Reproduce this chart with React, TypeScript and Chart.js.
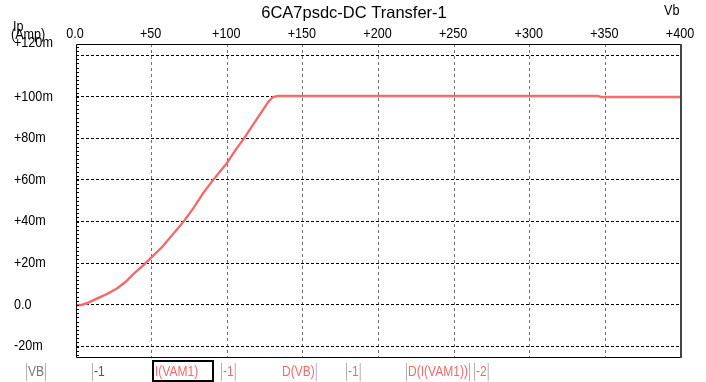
import React, { useEffect, useRef } from "react";
import { Chart, registerables } from "chart.js";

Chart.register(...registerables);

const title = "6CA7psdc-DC Transfer-1";
const xAxisName = "Vb";
const yAxisName = ["Ip", "(Amp)"];
const xTicks = [0, 50, 100, 150, 200, 250, 300, 350, 400];
const yTicks = [-20, 0, 20, 40, 60, 80, 100, 120];
// Vb (volts)
const vb = [0, 4, 8, 14, 20, 27, 33, 38, 45, 50, 57, 64, 71, 78, 84, 90, 95, 100, 105, 111, 116, 122, 127, 130, 133, 150, 200, 250, 300, 345, 347, 400];
// Ip (mA)
const ip = [0, 0.2, 1.2, 3.2, 5.2, 8, 11.3, 15, 19.5, 23, 28, 34, 40, 47, 53.7, 59.5, 64, 68.5, 74, 80, 85.5, 92, 97.5, 99.8, 100.4, 100.5, 100.5, 100.5, 100.5, 100.5, 100, 100];

const legendItems = [
  { text: "VB", color: "#777777", x: 28, barL: true, barR: true },
  { text: "-1", color: "#555555", x: 94, barL: true, barR: false },
  { text: "I(VAM1)", color: "#f06a6a", x: 155, barL: false, barR: false },
  { text: "-1", color: "#f06a6a", x: 223, barL: true, barR: true },
  { text: "D(VB)", color: "#f06a6a", x: 282, barL: false, barR: true },
  { text: "-1", color: "#f06a6a", x: 348, barL: true, barR: true },
  { text: "D(I(VAM1))", color: "#f06a6a", x: 408, barL: true, barR: true },
  { text: "-2", color: "#f06a6a", x: 476, barL: true, barR: true },
];

const FONT = "14px 'Liberation Sans', Arial, sans-serif";

function fmtY(v: number) {
  if (v === 0) return "0.0";
  return (v > 0 ? "+" : "") + v + "m";
}
function fmtX(v: number) {
  if (v === 0) return "0.0";
  return "+" + v;
}

function narrowText(ctx: CanvasRenderingContext2D, text: string, x: number, y: number, align: "left" | "center", sx: number) {
  const w = ctx.measureText(text).width * sx;
  const x0 = align === "center" ? x - w / 2 : x;
  ctx.save();
  ctx.translate(x0, y);
  ctx.scale(sx, 1);
  ctx.textAlign = "left";
  ctx.fillText(text, 0, 0);
  ctx.restore();
  return w;
}

const decorPlugin = {
  id: "decor",
  beforeDatasetDraw(chart: any, args: any) {
    if (args.index === 1) {
      chart.ctx.save();
      chart.ctx.translate(0, 1);
    }
  },
  afterDatasetDraw(chart: any, args: any) {
    if (args.index === 1) chart.ctx.restore();
  },
  afterDraw(chart: any) {
    const ctx = chart.ctx as CanvasRenderingContext2D;
    const { left, right, top, bottom } = chart.chartArea;
    const xs = chart.scales.x;
    const ys = chart.scales.y;
    ctx.save();
    // frame
    ctx.setLineDash([]);
    ctx.strokeStyle = "#000";
    ctx.lineWidth = 1;
    ctx.beginPath();
    ctx.moveTo(Math.round(right) + 0.5, Math.round(top) + 0.5);
    ctx.lineTo(Math.round(left) + 0.5, Math.round(top) + 0.5);
    ctx.lineTo(Math.round(left) + 0.5, Math.round(bottom) + 0.5);
    ctx.lineTo(Math.round(right) + 0.5, Math.round(bottom) + 0.5);
    ctx.stroke();
    ctx.strokeStyle = "#444";
    ctx.lineWidth = 2;
    ctx.beginPath();
    ctx.moveTo(Math.round(right), Math.round(top));
    ctx.lineTo(Math.round(right), Math.round(bottom) + 1);
    ctx.stroke();
    // minor ticks on left axis
    ctx.strokeStyle = "#000";
    ctx.lineWidth = 1;
    ctx.beginPath();
    for (let v = -24; v <= 124; v += 2) {
      const py = Math.round(ys.getPixelForValue(v)) + 0.5;
      ctx.moveTo(Math.round(left) + 1, py);
      ctx.lineTo(Math.round(left) + 3, py);
    }
    ctx.stroke();

    // title
    ctx.fillStyle = "#000";
    ctx.font = "16.5px 'Liberation Sans', Arial, sans-serif";
    ctx.textAlign = "center";
    ctx.textBaseline = "middle";
    ctx.fillText(title, 354, 13);

    ctx.font = FONT;
    // x tick labels
    for (const v of xTicks) {
      narrowText(ctx, fmtX(v), xs.getPixelForValue(v) - 1, 34, "center", 0.9);
    }
    narrowText(ctx, xAxisName, 664, 11, "left", 0.9);
    // y axis name
    narrowText(ctx, yAxisName[0], 13, 27, "left", 0.9);
    narrowText(ctx, yAxisName[1], 11, 35, "left", 0.9);
    // y tick labels
    for (const v of yTicks) {
      let py = ys.getPixelForValue(v);
      if (v === 120) py = 43;
      narrowText(ctx, fmtY(v), 14, py, "left", 0.9);
    }

    // legend row
    const ly = 372;
    for (const it of legendItems) {
      ctx.fillStyle = it.color;
      const w = narrowText(ctx, it.text, it.x, ly, "left", 0.86);
      ctx.strokeStyle = "#b0b0b0";
      ctx.lineWidth = 1;
      ctx.beginPath();
      if (it.barL) {
        ctx.moveTo(it.x - 1.5, 363);
        ctx.lineTo(it.x - 1.5, 381);
      }
      if (it.barR) {
        ctx.moveTo(it.x + w + 1.5, 363);
        ctx.lineTo(it.x + w + 1.5, 381);
      }
      ctx.stroke();
    }
    // selected legend box
    ctx.strokeStyle = "#000";
    ctx.lineWidth = 2;
    ctx.strokeRect(153, 361, 60, 20);
    ctx.restore();
  },
};

export default function App() {
  const ref = useRef<HTMLCanvasElement | null>(null);
  useEffect(() => {
    document.body.style.margin = "0";
    document.body.style.background = "#fff";
    const canvas = ref.current!;
    const pts = vb.map((x, i) => ({ x, y: ip[i] }));
    const chart = new Chart(canvas, {
      type: "line",
      data: {
        datasets: [
          {
            data: pts,
            borderColor: "#ff6464",
            borderWidth: 2,
            pointRadius: 0,
            tension: 0,
          },
          {
            data: pts,
            borderColor: "#b0b0b0",
            borderWidth: 1.5,
            pointRadius: 0,
            tension: 0,
          },
        ],
      },
      options: {
        animation: false,
        responsive: false,
        events: [],
        layout: { padding: { left: 76, right: 25, top: 44, bottom: 25 } },
        plugins: { legend: { display: false }, tooltip: { enabled: false }, title: { display: false } },
        scales: {
          x: {
            type: "linear",
            position: "top",
            min: 0,
            max: 400,
            ticks: { display: false },
            afterBuildTicks: (s: any) => {
              s.ticks = xTicks.filter((v) => v > 0 && v < 400).map((v) => ({ value: v }));
            },
            grid: { color: "#707070", lineWidth: 1, drawTicks: false },
            border: { display: false, dash: [3, 3] },
          },
          y: {
            type: "linear",
            min: -25,
            max: 125.3,
            ticks: { display: false },
            afterBuildTicks: (s: any) => {
              s.ticks = yTicks.map((v) => ({ value: v }));
            },
            grid: { color: "#000", lineWidth: 1, drawTicks: false },
            border: { display: false, dash: [3, 2] },
          },
        },
      },
      plugins: [decorPlugin],
    } as any);
    return () => chart.destroy();
  }, []);
  return <canvas ref={ref} width={706} height={382} style={{ display: "block" }} />;
}
